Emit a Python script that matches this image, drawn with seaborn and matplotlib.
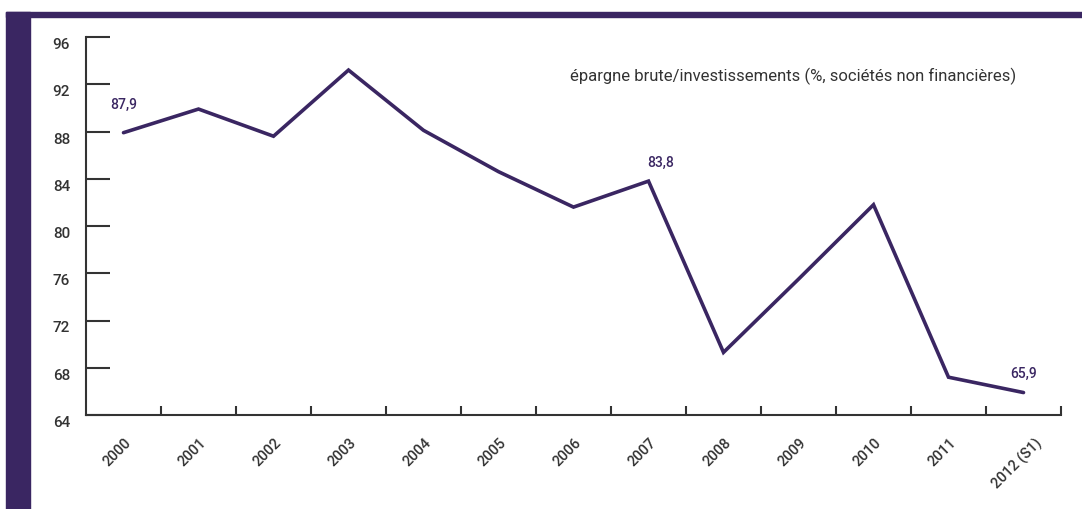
import matplotlib
matplotlib.use("Agg")
import matplotlib.pyplot as plt
import matplotlib.transforms as mtransforms
from matplotlib.patches import Rectangle
import numpy as np
import pandas as pd
import seaborn as sns

years = ["2000", "2001", "2002", "2003", "2004", "2005", "2006",
         "2007", "2008", "2009", "2010", "2011", "2012 (S1)"]
ratio = [87.9, 89.9, 87.6, 93.2, 88.1, 84.6, 81.6,
         83.8, 69.3, 75.5, 81.8, 67.2, 65.9]
annotated = {"2000": "87,9", "2007": "83,8", "2012 (S1)": "65,9"}
y_ticks = [64, 68, 72, 76, 80, 84, 88, 92, 96]
title = "épargne brute/investissements (%, sociétés non financières)"

sns.set_theme(style="white")
plt.rcParams["font.family"] = ["Roboto", "DejaVu Sans"]

PURPLE = "#3a2662"
DARK = "#333333"

fig = plt.figure(figsize=(10.82, 5.10), dpi=100)
W, H = 1082, 510
ax = fig.add_axes([86 / W, (H - 416) / H, (1061 - 86) / W, (416 - 38) / H])

df = pd.DataFrame({"pos": np.arange(len(years)), "value": ratio})
sns.lineplot(data=df, x="pos", y="value", ax=ax, color=PURPLE,
             linewidth=2.6, solid_joinstyle="miter")

ax.set_xlim(-0.5, len(years) - 0.5)
ax.set_ylim(64, 96)
ax.set_xlabel("")
ax.set_ylabel("")

for s in ["top", "right"]:
    ax.spines[s].set_visible(False)
for s in ["left", "bottom"]:
    ax.spines[s].set_color(DARK)
    ax.spines[s].set_linewidth(1.5)

ax.set_yticks(y_ticks)
ax.set_yticklabels([str(v) for v in y_ticks])
ax.tick_params(axis="y", direction="in", length=17.5, width=1.5, color=DARK,
               pad=11.5, labelsize=11, labelcolor=DARK, left=True)
for lab in ax.get_yticklabels():
    lab.set_va("top")
    lab.set_fontweight("medium")

ax.set_xticks(np.arange(len(years)))
ax.set_xticklabels(years, rotation=45, ha="center", va="top",
                   rotation_mode="default")
ax.set_xticks(np.arange(len(years)) + 0.5, minor=True)
ax.tick_params(axis="x", which="major", length=0, pad=14, labelsize=10.5,
               labelcolor=DARK)
ax.tick_params(axis="x", which="minor", direction="in", length=6.5, width=1.5,
               color=DARK, bottom=True)
offset = mtransforms.ScaledTranslation(-6 / 100, 0, fig.dpi_scale_trans)
for lab in ax.get_xticklabels():
    lab.set_transform(lab.get_transform() + offset)
    lab.set_fontweight("medium")

for i, yr in enumerate(years):
    if yr in annotated:
        dx = 9 if yr == "2007" else 0
        dy = 21 if i == 0 else 14
        ax.annotate(annotated[yr], (i, ratio[i]), xytext=(dx, dy),
                    textcoords="offset points", ha="center", va="center",
                    fontsize=10, color=PURPLE, fontweight="medium")

fig.text(570 / W, 1 - 76 / H, title, fontsize=12, color=DARK,
         ha="left", va="center")

# decorative frame bands
fig.add_artist(Rectangle((6 / W, 0), 24 / W, 1 - 13 / H, transform=fig.transFigure,
                         color=PURPLE, zorder=0))
fig.add_artist(Rectangle((6 / W, 1 - 18 / H), 1 - 6 / W, 5 / H,
                         transform=fig.transFigure, color=PURPLE, zorder=0))

fig.savefig("out.png", dpi=100)
